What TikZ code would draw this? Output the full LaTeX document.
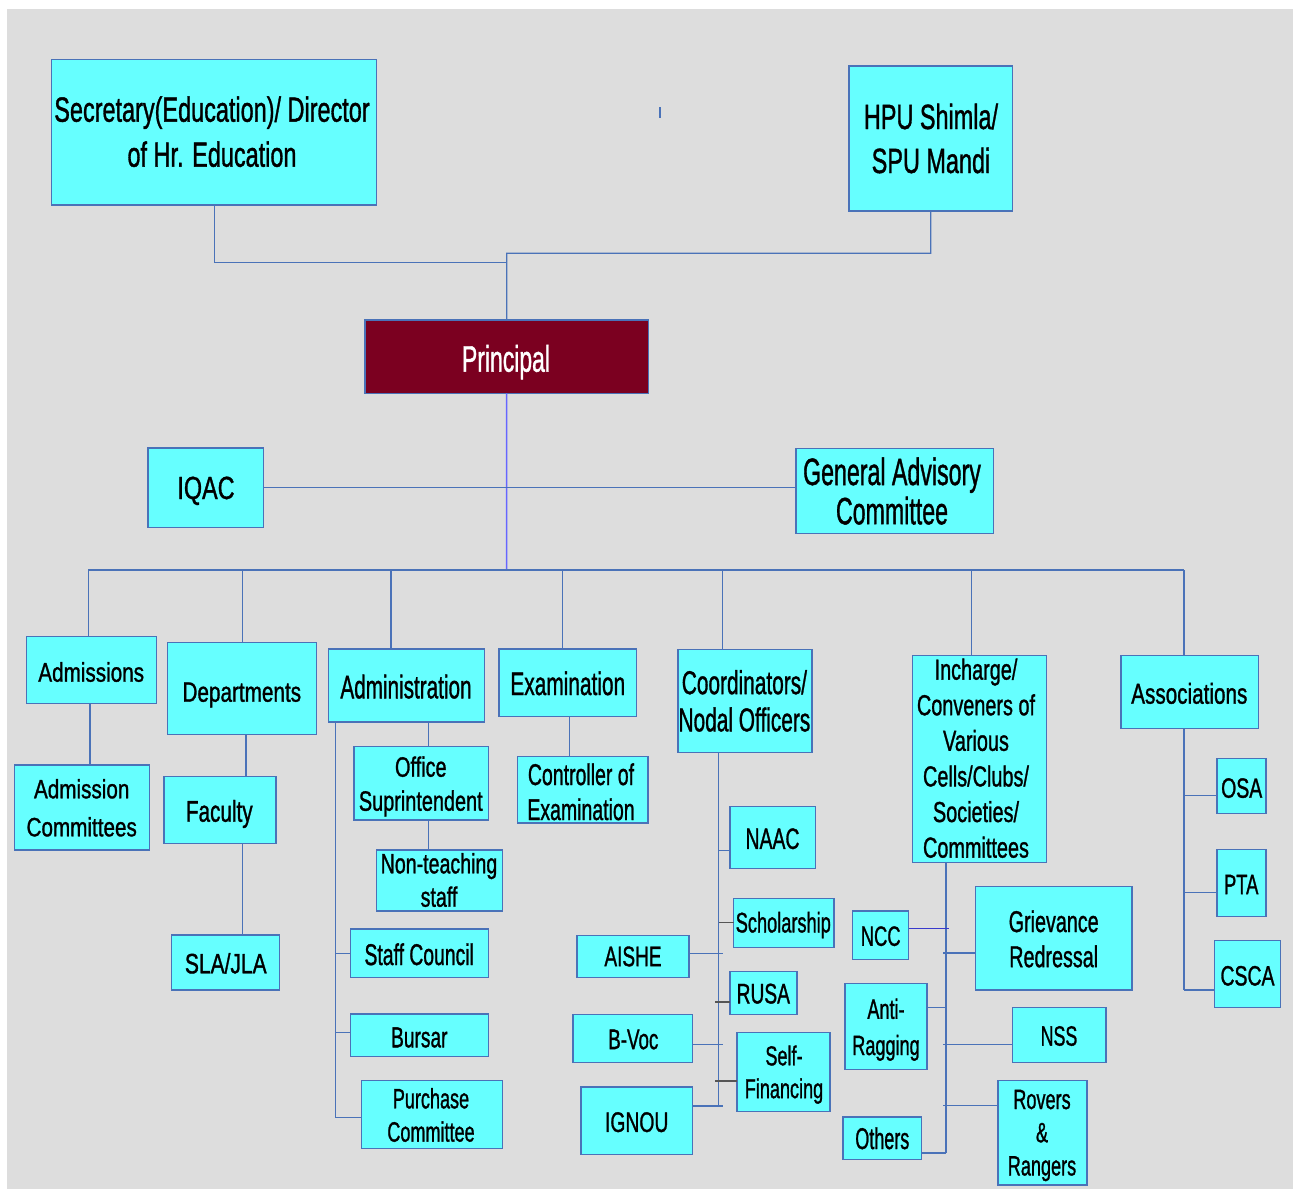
\documentclass[tikz,border=0pt]{standalone}
\usepackage{graphicx}
\usepackage{fontspec}
\setmainfont{Liberation Sans}
\newfontfamily\lblfont{Liberation Sans}[FakeBold=1.3]
\definecolor{bggray}{HTML}{DDDDDD}
\definecolor{cyanfill}{HTML}{66FFFF}
\definecolor{boxline}{HTML}{4A72B8}
\definecolor{linecol}{HTML}{4A72B8}
\definecolor{brightblue}{HTML}{6666FF}
\definecolor{nccblue}{HTML}{3A3ACC}
\definecolor{stubgray}{HTML}{555555}
\definecolor{princred}{HTML}{7B0020}
\tikzset{
  box/.style={draw=boxline, fill=cyanfill, line width=1.2pt, inner sep=0pt, outer sep=0pt},
  conn/.style={draw=linecol, line width=1.3pt},
  connb/.style={draw=brightblue, line width=1.5pt},
  connn/.style={draw=nccblue, line width=1.4pt},
  conng/.style={draw=stubgray, line width=1.5pt},
  lbl/.style={anchor=base, inner sep=0pt, outer sep=0pt, text=black}
}
% box: name, x1, y1, x2, y2 (pixel coordinates, y downwards)
\newcommand{\bx}[6][box]{\node[#1, minimum width={(#5)-(#3)}, minimum height={(#6)-(#4)}] (#2) at ({((#3)+(#5))/2},{((#4)+(#6))/2}) {};}
% text: name, x, first baseline y, xscale, size, leading, lines
\newcommand{\tx}[7]{\node[lbl] (#1) at (#2,#3) {\scalebox{#4}[1]{\lblfont\fontsize{#5}{#6}\selectfont\begin{tabular}[t]{@{}c@{}}#7\end{tabular}}};}
% branch: style, node, anchor, trunk x, y
\newcommand{\br}[5][conn]{\coordinate (#2-j) at (#4,#5); \draw[#1] (#2.#3 |- #2-j) -- (#2-j);}
\begin{document}
\begin{tikzpicture}[x=1pt,y=-1pt]
\useasboundingbox (0,0) rectangle (1293,1189);
\fill[white] (0,0) rectangle (1293,1189);
\fill[bggray] (7,9) rectangle (1293,1189);

% ---------- boxes ----------
\bx{sec}{51.7}{59.3}{376.7}{205}
\bx{hpu}{849}{66}{1012.5}{211}
\bx[box,fill=princred]{principal}{365}{320}{648.3}{393.3}
\bx{iqac}{148}{448}{263.5}{527.5}
\bx{gac}{796}{448.3}{993.3}{533.3}
\bx{adm}{26.7}{636.7}{156.7}{703.3}
\bx{dep}{167.7}{642.7}{316.7}{734.3}
\bx{admn}{328.3}{649}{484.3}{722}
\bx{exam}{499}{649}{636.7}{716.7}
\bx{coord}{678}{649.1}{812}{752.2}
\bx{inch}{912.7}{655.5}{1046.7}{862.1}
\bx{assoc}{1121}{655.5}{1258.7}{728.2}
\bx{admc}{14.3}{765}{149.3}{850}
\bx{fac}{164}{776.7}{276}{843.3}
\bx{sla}{171.7}{935}{279.3}{990}
\bx{ofs}{354}{746.7}{488.3}{820}
\bx{nts}{376.3}{850}{502.7}{911}
\bx{stc}{350.3}{929}{488.3}{977.7}
\bx{bur}{350.3}{1014}{488.3}{1056.7}
\bx{pur}{361.7}{1080.7}{502.7}{1148.3}
\bx{coe}{517.7}{756.7}{648}{823}
\bx{naac}{730}{806.7}{815.7}{868.5}
\bx{sch}{733.7}{898.3}{834}{947.6}
\bx{aishe}{577}{935.1}{689}{977.4}
\bx{rusa}{730}{971.3}{797}{1014.6}
\bx{bvoc}{573}{1014.2}{692.7}{1062.6}
\bx{sfin}{737}{1032.2}{830}{1111.3}
\bx{ignou}{581}{1086.9}{692.7}{1154.5}
\bx{ncc}{852.7}{911}{908.7}{959.6}
\bx{grv}{975.7}{886.2}{1132}{989.9}
\bx{anti}{845}{983.3}{927}{1069.1}
\bx{nss}{1012.7}{1007.8}{1106}{1062.5}
\bx{oth}{843}{1116.9}{921.7}{1159.3}
\bx{rov}{998}{1080.1}{1087}{1185}
\bx{osa}{1217}{758.5}{1266}{813.2}
\bx{pta}{1217}{849.7}{1266}{916.5}
\bx{csca}{1214.7}{940.6}{1280.7}{1007.8}

% ---------- texts ----------
\tx{sec-t}{212}{121.7}{0.67}{35}{45}{Secretary(Education)/ Director\\of Hr. Education}
\tx{hpu-t}{931}{129}{0.67}{35}{44}{HPU Shimla/\\SPU Mandi}
\tx{prin-t}{506}{371.7}{0.62}{37}{44}{\color{white}Principal}
\tx{iqac-t}{206}{499}{0.73}{32}{38}{IQAC}
\tx{gac-t}{892}{485}{0.61}{38}{39}{General Advisory\\Committee}
\tx{adm-t}{91.2}{681.7}{0.766}{27}{32}{Admissions}
\tx{dep-t}{241.8}{701.7}{0.74}{28}{34}{Departments}
\tx{admn-t}{406}{698.3}{0.635}{32.6}{38}{Administration}
\tx{exam-t}{567.8}{695}{0.64}{32.6}{38}{Examination}
\tx{coord-t}{744.4}{694.1}{0.632}{33}{37.2}{Coordinators/\\Nodal Officers}
\tx{inch-t}{976}{679.6}{0.687}{28.9}{35.6}{Incharge/\\Conveners of\\Various\\Cells/Clubs/\\Societies/\\Committees}
\tx{assoc-t}{1189.3}{703.7}{0.716}{28.9}{34}{Associations}
\tx{admc-t}{81.7}{798.3}{0.78}{26.5}{38}{Admission\\Committees}
\tx{fac-t}{219.3}{821.7}{0.69}{30}{36}{Faculty}
\tx{sla-t}{225.8}{973.3}{0.75}{28}{34}{SLA/JLA}
\tx{ofs-t}{420.8}{776.7}{0.71}{28}{34}{Office\\Suprintendent}
\tx{nts-t}{439}{873.3}{0.70}{28}{33.4}{Non-teaching\\staff}
\tx{stc-t}{419.2}{965}{0.645}{30}{36}{Staff Council}
\tx{bur-t}{419.3}{1047.3}{0.66}{29}{35}{Bursar}
\tx{pur-t}{431}{1108.3}{0.645}{28}{33.3}{Purchase\\Committee}
\tx{coe-t}{581}{785}{0.65}{30}{35}{Controller of\\Examination}
\tx{naac-t}{772.5}{848.9}{0.66}{29.4}{35}{NAAC}
\tx{sch-t}{783.3}{932.4}{0.643}{28.3}{34}{Scholarship}
\tx{aishe-t}{633}{966.2}{0.673}{28.3}{34}{AISHE}
\tx{rusa-t}{763.3}{1003.4}{0.678}{28.3}{34}{RUSA}
\tx{bvoc-t}{633.3}{1049.1}{0.663}{28.3}{34}{B-Voc}
\tx{sfin-t}{784}{1065.3}{0.66}{27.4}{32.8}{Self-\\Financing}
\tx{ignou-t}{636.7}{1131.9}{0.683}{28.3}{34}{IGNOU}
\tx{ncc-t}{880.7}{945.8}{0.658}{27.9}{32}{NCC}
\tx{grv-t}{1053.7}{932}{0.658}{30}{35.1}{Grievance\\Redressal}
\tx{anti-t}{886}{1018.8}{0.649}{27.9}{36.2}{Anti-\\Ragging}
\tx{nss-t}{1059}{1045.6}{0.639}{27.9}{32}{NSS}
\tx{oth-t}{882.3}{1149}{0.60}{30}{35}{Others}
\tx{rov-t}{1042}{1109}{0.649}{27.9}{33.2}{Rovers\\\&\\Rangers}
\tx{osa-t}{1241.7}{797.7}{0.697}{27.9}{32}{OSA}
\tx{pta-t}{1241.2}{894.1}{0.658}{27.9}{32}{PTA}
\tx{csca-t}{1247.5}{985.4}{0.697}{27.9}{32}{CSCA}

% ---------- top connectors ----------
\coordinate (jS) at (506.7,262.7);
\coordinate (jH) at (506.7,253.3);
\draw[conn] (sec.south) |- (jS);
\draw[conn] (hpu.south) |- (jH) -- (principal.north);
\coordinate (busC) at (506.7,570);
\draw[connb] (principal.south) -- (busC);
\draw[conn] (iqac.east) -- (iqac.east -| gac.west);
\draw[conn] (660,107) -- (660,118);

% ---------- bus and drops ----------
\coordinate (busL) at (88.3,570);
\coordinate (busR) at (1184,570);
\coordinate (bD) at (242.3,570);
\coordinate (bA) at (391,570);
\coordinate (bE) at (562.3,570);
\coordinate (bC) at (722.7,570);
\coordinate (bI) at (971.7,570);
\draw[conn] (busL) -- (busR);
\draw[conn] (busL) -- (busL |- adm.north);
\draw[conn] (bD) -- (bD |- dep.north);
\draw[conn] (bA) -- (bA |- admn.north);
\draw[conn] (bE) -- (bE |- exam.north);
\draw[conn] (bC) -- (bC |- coord.north);
\draw[conn] (bI) -- (bI |- inch.north);
\draw[conn] (busR) -- (busR |- assoc.north);

% ---------- second level ----------
\coordinate (xAd) at (90,0);
\draw[conn] (adm.south -| xAd) -- (admc.north -| xAd);
\coordinate (xDf) at (246,0);
\draw[conn] (dep.south -| xDf) -- (fac.north -| xDf);
\coordinate (xFs) at (242.7,0);
\draw[conn] (fac.south -| xFs) -- (sla.north -| xFs);
\coordinate (xOf) at (428.3,0);
\draw[conn] (admn.south -| xOf) -- (ofs.north -| xOf);
\draw[conn] (ofs.south -| xOf) -- (nts.north -| xOf);
\coordinate (xEx) at (569.3,0);
\draw[conn] (exam.south -| xEx) -- (coe.north -| xEx);

% ---------- administration trunk ----------
\coordinate (tA) at (335.3,1117.7);
\draw[conn] (admn.south -| tA) -- (tA);
\br{stc}{west}{335.3}{953.3}
\br{bur}{west}{335.3}{1032.3}
\br{pur}{west}{335.3}{1117.7}

% ---------- coordinators trunk ----------
\coordinate (tC) at (718.7,1105.9);
\draw[conn] (coord.south -| tC) -- (tC);
\br{naac}{west}{718.7}{850.3}
\br[conng]{sch}{west}{718.7}{922.3}
\br{aishe}{east}{722.7}{953.4}
\br[conng]{rusa}{west}{715}{1002.1}
\br{bvoc}{east}{722.7}{1044.3}
\br[conng]{sfin}{west}{715}{1081.2}
\br{ignou}{east}{722.7}{1105.9}

% ---------- incharge trunk ----------
\coordinate (tI) at (946,1153.1);
\draw[conn] (inch.south -| tI) -- (tI);
\br[connn]{ncc}{east}{949}{928.6}
\br{grv}{west}{942.7}{953}
\br{anti}{east}{946}{1007.8}
\br{nss}{west}{942.7}{1044.6}
\br{rov}{west}{942.7}{1105.6}
\br{oth}{east}{946}{1153.1}

% ---------- associations trunk ----------
\coordinate (tS) at (1184,989.9);
\draw[conn] (assoc.south -| tS) -- (tS);
\br{osa}{west}{1184}{795.3}
\br{pta}{west}{1184}{892.4}
\br{csca}{west}{1184}{989.9}
\end{tikzpicture}
\end{document}
